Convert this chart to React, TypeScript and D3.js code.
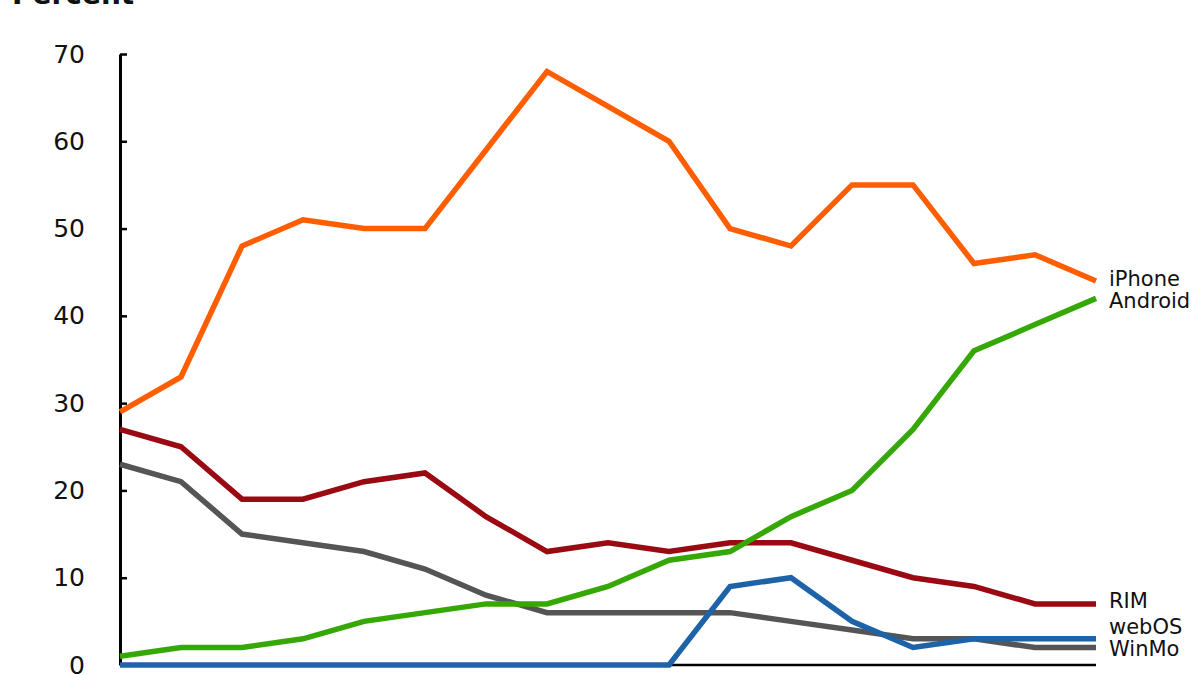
import React, { useEffect, useRef } from "react";
import * as d3 from "d3";

const periods = d3.range(17);
const iPhone = [29, 33, 48, 51, 50, 50, 59, 68, 64, 60, 50, 48, 55, 55, 46, 47, 44];
const android = [1, 2, 2, 3, 5, 6, 7, 7, 9, 12, 13, 17, 20, 27, 36, 39, 42];
const rim = [27, 25, 19, 19, 21, 22, 17, 13, 14, 13, 14, 14, 12, 10, 9, 7, 7];
const webOS = [0, 0, 0, 0, 0, 0, 0, 0, 0, 0, 9, 10, 5, 2, 3, 3, 3];
const winMo = [23, 21, 15, 14, 13, 11, 8, 6, 6, 6, 6, 5, 4, 3, 3, 2, 2];
const yTicks = [0, 10, 20, 30, 40, 50, 60, 70];

const series = [
  { name: "WinMo", values: winMo, color: "#555555", labelDy: 649 },
  { name: "RIM", values: rim, color: "#9a0a12", labelDy: 601 },
  { name: "webOS", values: webOS, color: "#1e63a8", labelDy: 627 },
  { name: "Android", values: android, color: "#36a806", labelDy: 301 },
  { name: "iPhone", values: iPhone, color: "#ff5e00", labelDy: 279 },
];

export default function App() {
  const ref = useRef<SVGSVGElement>(null);
  useEffect(() => {
    const svg = d3.select(ref.current);
    svg.selectAll("*").remove();
    const x = d3.scaleLinear().domain([0, 16]).range([120, 1096]);
    const y = d3.scaleLinear().domain([0, 70]).range([665, 54]);
    const font = "'DejaVu Sans', sans-serif";

    svg
      .append("text")
      .attr("x", 12)
      .attr("y", 4)
      .attr("font-family", font)
      .attr("font-weight", "bold")
      .attr("font-size", 28)
      .attr("fill", "#111")
      .text("Percent");

    // x axis baseline
    svg
      .append("line")
      .attr("x1", x(0))
      .attr("x2", x(16))
      .attr("y1", y(0))
      .attr("y2", y(0))
      .attr("stroke", "#000")
      .attr("stroke-width", 2.5);

    const yAxis = d3
      .axisLeft(y)
      .tickValues(yTicks)
      .tickSizeInner(-7)
      .tickSizeOuter(0)
      .tickPadding(35)
      .tickFormat(d3.format("d"));
    const g = svg.append("g").attr("transform", `translate(${x(0)},0)`).call(yAxis);
    g.select(".domain").attr("stroke", "#000").attr("stroke-width", 3);
    g.selectAll(".tick line").attr("stroke", "#000").attr("stroke-width", 2.5);
    g.selectAll(".tick text")
      .attr("font-family", font)
      .attr("font-size", 25)
      .attr("fill", "#111");

    const line = d3
      .line<number>()
      .x((_, i) => x(periods[i]))
      .y((d) => y(d));

    series.forEach((s) => {
      svg
        .append("path")
        .attr("d", line(s.values))
        .attr("fill", "none")
        .attr("stroke", s.color)
        .attr("stroke-width", 5.5)
        .attr("stroke-linejoin", "miter");
    });

    series.forEach((s) => {
      svg
        .append("text")
        .attr("x", 1109)
        .attr("y", s.labelDy)
        .attr("dy", "0.35em")
        .attr("font-family", font)
        .attr("font-size", 21)
        .attr("fill", "#111")
        .text(s.name);
    });
  }, []);
  return (
    <svg
      ref={ref}
      width={1200}
      height={675}
      style={{ position: "absolute", left: 0, top: 0, background: "#fff" }}
    />
  );
}
